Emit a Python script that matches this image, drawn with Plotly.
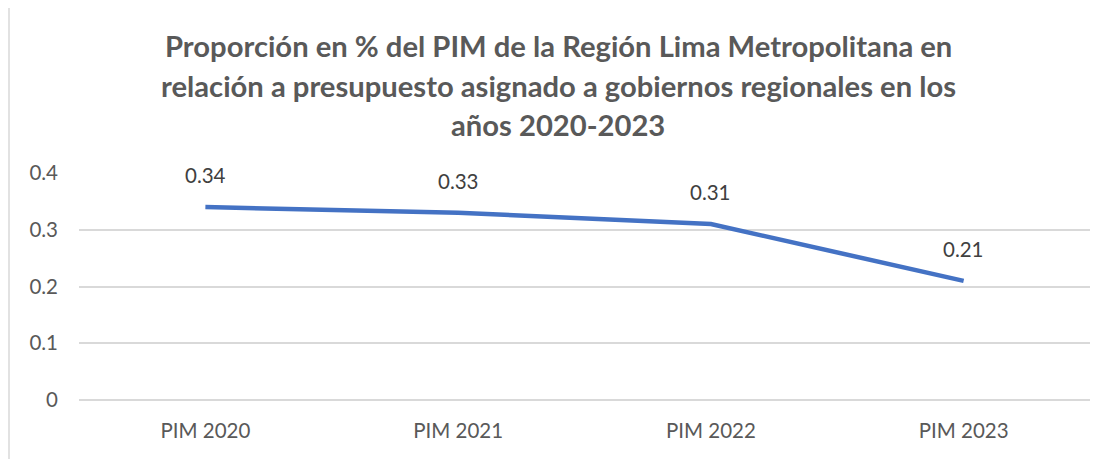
import plotly.graph_objects as go

categories = ["PIM 2020", "PIM 2021", "PIM 2022", "PIM 2023"]
values = [0.34, 0.33, 0.31, 0.21]
value_labels = ["0.34", "0.33", "0.31", "0.21"]
y_ticks = [0, 0.1, 0.2, 0.3, 0.4]
y_tick_labels = ["0", "0.1", "0.2", "0.3", "0.4"]
title_lines = [
    "Proporción en % del PIM de la Región Lima Metropolitana en",
    "relación a presupuesto asignado a gobiernos regionales en los",
    "años 2020-2023",
]

FONT = "Lato, Open Sans, sans-serif"
GREY = "#595959"

fig = go.Figure()
fig.add_trace(go.Scatter(
    x=categories, y=values, mode="lines",
    line=dict(color="#4472C4", width=4.5),
    hoverinfo="skip", showlegend=False,
))

for c, v, t in zip(categories, values, value_labels):
    fig.add_annotation(x=c, y=v, text=t, showarrow=False, yshift=32,
                       font=dict(family=FONT, size=20.5, color="#404040"))

# title lines (page is offset by 8px body margin)
plot_h = 227
for line, py in zip(title_lines, [45, 85, 124]):
    fig.add_annotation(xref="paper", yref="paper", x=(558 - 79) / 1011, y=(400 - py) / plot_h,
                       text=f"<b>{line}</b>", showarrow=False, xanchor="center", yanchor="middle",
                       font=dict(family=FONT, size=29.2, color=GREY))

# chart border
fig.add_shape(type="rect", xref="paper", yref="paper",
              x0=(9 - 79) / 1011, x1=1.2, y0=-1.0, y1=(400 - 3) / plot_h,
              line=dict(color="#D9D9D9", width=1.5), fillcolor="rgba(0,0,0,0)", layer="below")

fig.update_layout(
    width=1112, height=459,
    margin=dict(l=71, r=30, t=165, b=67, autoexpand=False),
    paper_bgcolor="white", plot_bgcolor="white",
    font=dict(family=FONT, size=20.5, color=GREY),
    xaxis=dict(range=[-0.5, 3.5], showgrid=False, showline=False, zeroline=False, ticks="",
               tickfont=dict(family=FONT, size=20.5, color=GREY),
               ticklabelstandoff=16, automargin=False, fixedrange=True),
    yaxis=dict(range=[0, 0.4], tickvals=y_ticks, ticktext=y_tick_labels,
               showgrid=True, gridcolor="#D9D9D9", gridwidth=1.5,
               zeroline=True, zerolinecolor="#D9D9D9", zerolinewidth=1.5, showline=False, ticks="",
               tickfont=dict(family=FONT, size=20.5, color=GREY),
               ticklabelstandoff=20, automargin=False, fixedrange=True),
)

fig.write_html("out.html")
